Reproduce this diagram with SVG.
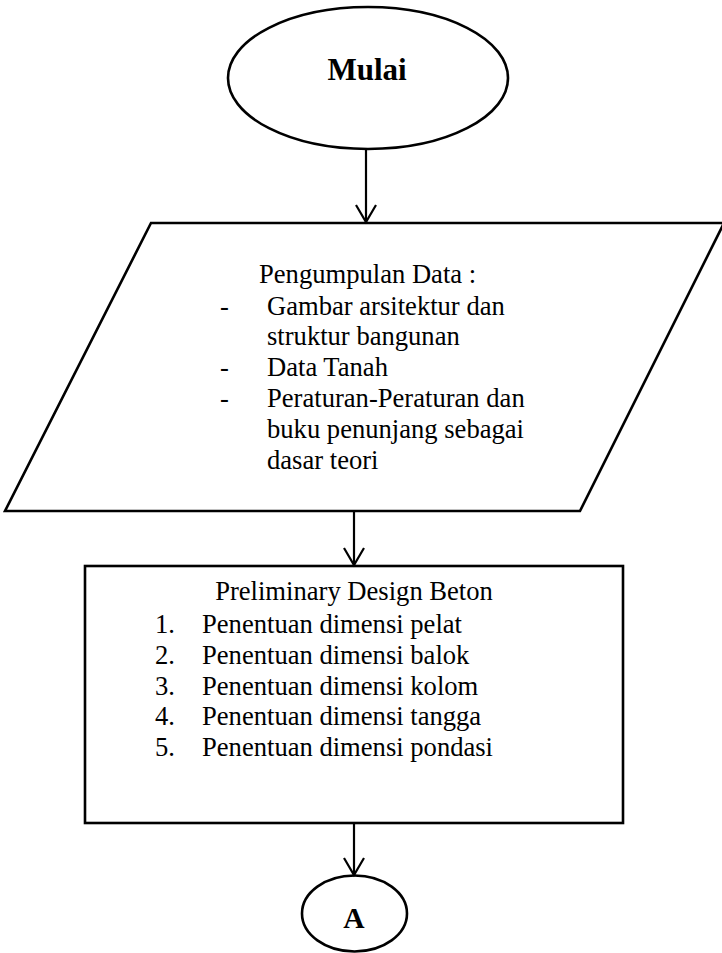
<svg xmlns="http://www.w3.org/2000/svg" width="722" height="953" viewBox="0 0 722 953">
  <style>
    .shape { fill: #ffffff; stroke: #000000; stroke-width: 2.6; }
    .edge { fill: none; stroke: #000000; stroke-width: 2.2; }
    .txt { font-family: "Liberation Serif", "Times New Roman", serif; font-size: 26.6px; fill: #000000; }
    .bold { font-family: "Liberation Serif", "Times New Roman", serif; font-weight: bold; fill: #000000; }
  </style>
  <defs>
    <!-- open V arrowhead, drawn along +x so orient="auto" points it down the line -->
    <marker id="openArrow" markerWidth="22" markerHeight="24" refX="19" refY="11" orient="auto" markerUnits="userSpaceOnUse" viewBox="0 0 22 22">
      <path d="M2,1 L19,11 L2,21" fill="none" stroke="#000000" stroke-width="2.2"/>
    </marker>
  </defs>
  <rect width="722" height="953" fill="#ffffff"/>

  <!-- start terminal -->
  <g id="mulai">
    <ellipse class="shape" cx="368" cy="78" rx="140" ry="71"/>
    <text class="bold" x="367" y="80" font-size="31" text-anchor="middle">Mulai</text>
  </g>

  <!-- data input -->
  <g id="pengumpulan-data">
    <polygon class="shape" points="151,223 724,223 580,511 5,511"/>
    <text class="txt" x="259" y="283">Pengumpulan Data :</text>
    <text class="txt" x="220" y="315">-</text>
    <text class="txt" x="267" y="315">Gambar arsitektur dan</text>
    <text class="txt" x="267" y="345">struktur bangunan</text>
    <text class="txt" x="220" y="376">-</text>
    <text class="txt" x="267" y="376">Data Tanah</text>
    <text class="txt" x="220" y="407">-</text>
    <text class="txt" x="267" y="407">Peraturan-Peraturan dan</text>
    <text class="txt" x="267" y="438">buku penunjang sebagai</text>
    <text class="txt" x="267" y="469">dasar teori</text>
  </g>

  <!-- preliminary design process -->
  <g id="preliminary-design">
    <rect class="shape" x="85" y="566" width="538" height="257"/>
    <text class="txt" x="354" y="600" text-anchor="middle">Preliminary Design Beton</text>
    <text class="txt" x="155" y="633">1.</text>
    <text class="txt" x="202" y="633">Penentuan dimensi pelat</text>
    <text class="txt" x="155" y="664">2.</text>
    <text class="txt" x="202" y="664">Penentuan dimensi balok</text>
    <text class="txt" x="155" y="695">3.</text>
    <text class="txt" x="202" y="695">Penentuan dimensi kolom</text>
    <text class="txt" x="155" y="725">4.</text>
    <text class="txt" x="202" y="725">Penentuan dimensi tangga</text>
    <text class="txt" x="155" y="756">5.</text>
    <text class="txt" x="202" y="756">Penentuan dimensi pondasi</text>
  </g>

  <!-- off-page connector -->
  <g id="connector-a">
    <ellipse class="shape" cx="354.5" cy="913.5" rx="52.5" ry="38"/>
    <text class="bold" x="354" y="928" font-size="29.5" text-anchor="middle">A</text>
  </g>

  <!-- flow lines -->
  <g id="connectors">
    <line class="edge" x1="366" y1="149" x2="366" y2="222" marker-end="url(#openArrow)"/>
    <line class="edge" x1="354" y1="511" x2="354" y2="565" marker-end="url(#openArrow)"/>
    <line class="edge" x1="354" y1="823" x2="354" y2="875" marker-end="url(#openArrow)"/>
  </g>
</svg>
